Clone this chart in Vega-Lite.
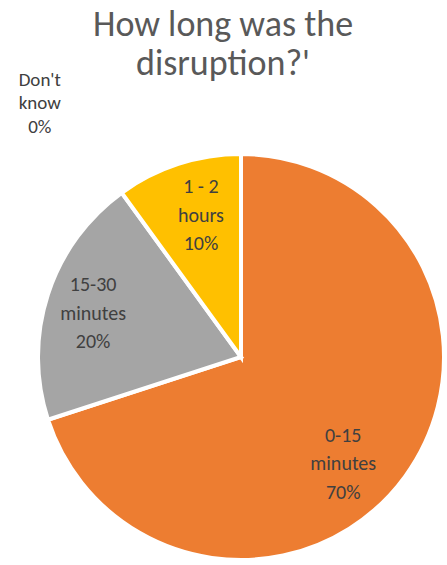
{
  "$schema": "https://vega.github.io/schema/vega-lite/v6.json",
  "width": 482,
  "height": 534,
  "autosize": {"type": "none"},
  "padding": {"left": 0, "top": 90, "right": 0, "bottom": 0},
  "background": "white",
  "view": {"stroke": null},
  "title": {
    "text": ["How long was the", "disruption?'"],
    "font": "Carlito, Lato",
    "fontSize": 36,
    "fontWeight": "normal",
    "color": "#595959",
    "lineHeight": 39,
    "dx": -18,
    "offset": -12,
    "anchor": "middle"
  },
  "data": {
    "values": [
      {"category": "0-15 minutes", "value": 70, "order": 1, "label": "0-15\nminutes\n70%"},
      {"category": "15-30 minutes", "value": 20, "order": 2, "label": "15-30\nminutes\n20%"},
      {"category": "1 - 2 hours", "value": 10, "order": 3, "label": "1 - 2\nhours\n10%"},
      {"category": "Don't know", "value": 0, "order": 4, "label": "Don't\nknow\n0%"}
    ]
  },
  "encoding": {
    "theta": {"field": "value", "type": "quantitative", "stack": true},
    "order": {"field": "order", "type": "quantitative"}
  },
  "layer": [
    {
      "mark": {"type": "arc", "outerRadius": 203, "stroke": "white", "strokeWidth": 4},
      "encoding": {
        "color": {
          "field": "category",
          "type": "nominal",
          "scale": {
            "domain": ["0-15 minutes", "15-30 minutes", "1 - 2 hours", "Don't know"],
            "range": ["#ED7D31", "#A5A5A5", "#FFC000", "#4472C4"]
          },
          "legend": null
        }
      }
    },
    {
      "mark": {"type": "text", "radius": 148, "thetaOffset": 0.18, "dy": -28.5, "font": "Carlito, Lato", "fontSize": 20, "lineBreak": "\n", "lineHeight": 28.5, "color": "#404040", "baseline": "middle", "align": "center"},
      "encoding": {"text": {"condition": {"test": "datum.category === '0-15 minutes'", "field": "label"}, "value": ""}}
    },
    {
      "mark": {"type": "text", "radius": 154, "thetaOffset": -0.031, "dy": -28.5, "font": "Carlito, Lato", "fontSize": 20, "lineBreak": "\n", "lineHeight": 28.5, "color": "#404040", "baseline": "middle", "align": "center"},
      "encoding": {"text": {"condition": {"test": "datum.category === '15-30 minutes'", "field": "label"}, "value": ""}}
    },
    {
      "mark": {"type": "text", "radius": 147, "thetaOffset": 0.038, "dy": -28.5, "font": "Carlito, Lato", "fontSize": 20, "lineBreak": "\n", "lineHeight": 28.5, "color": "#404040", "baseline": "middle", "align": "center"},
      "encoding": {"text": {"condition": {"test": "datum.category === '1 - 2 hours'", "field": "label"}, "value": ""}}
    },
    {
      "mark": {"type": "text", "radius": 324, "thetaOffset": -0.67, "dy": -23.5, "font": "Carlito, Lato", "fontSize": 19, "lineBreak": "\n", "lineHeight": 23.5, "color": "#404040", "baseline": "middle", "align": "center"},
      "encoding": {"text": {"condition": {"test": "datum.category === \"Don't know\"", "field": "label"}, "value": ""}}
    }
  ]
}
